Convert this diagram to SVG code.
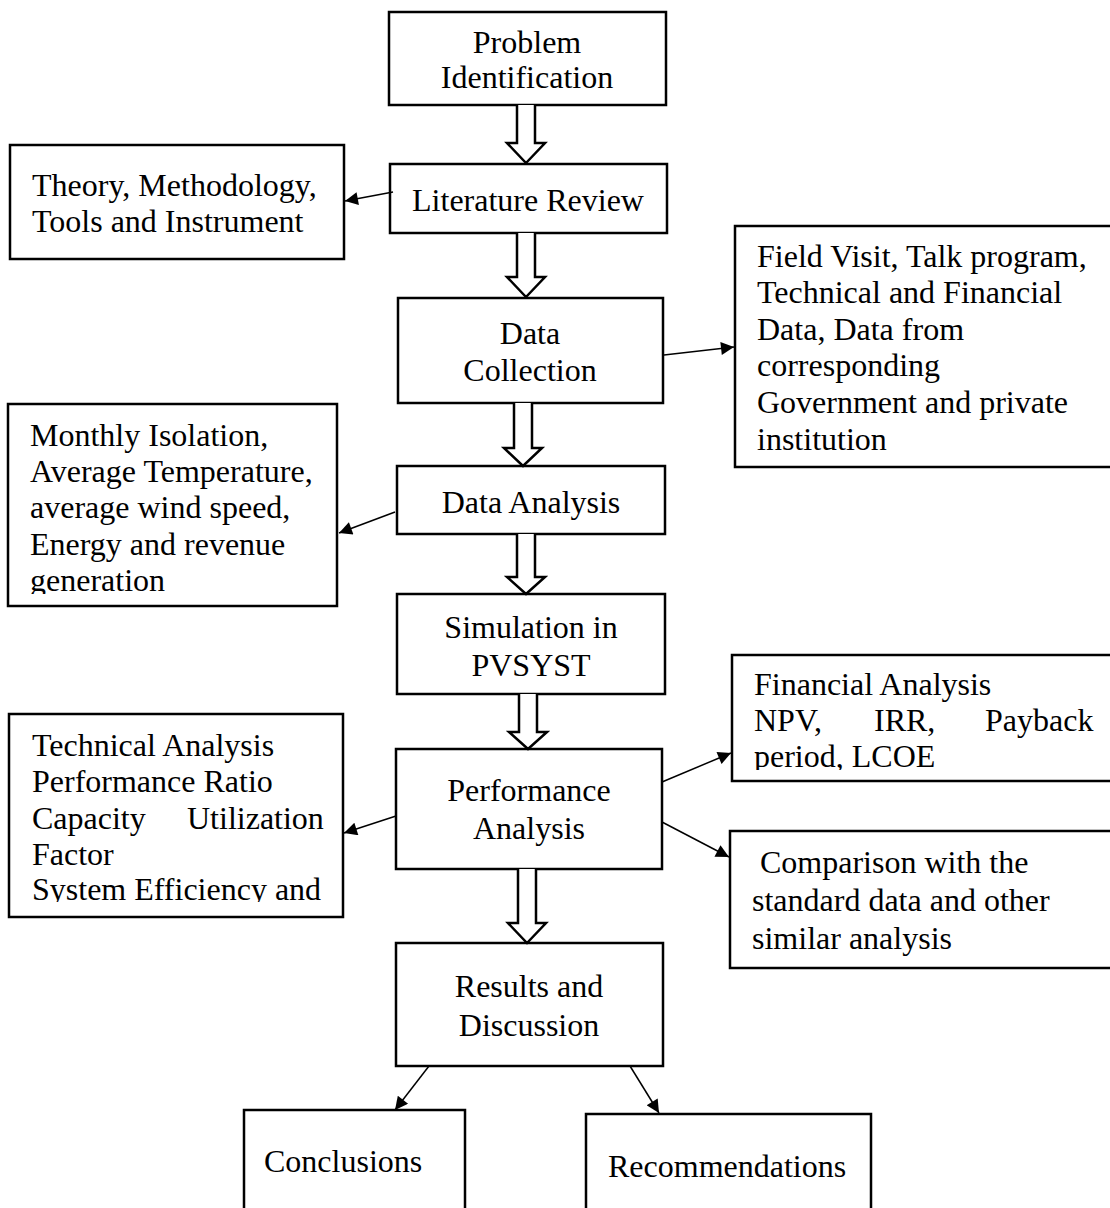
<svg xmlns="http://www.w3.org/2000/svg" width="1110" height="1208" viewBox="0 0 1110 1208">
<style>
.box{fill:#fff;stroke:#000;stroke-width:2.5}
.t{font-family:"Liberation Serif","Times New Roman",serif;font-size:32px;fill:#000}
.c{text-anchor:middle}
.hollow{fill:#fff;stroke:#000;stroke-width:2.5;stroke-linejoin:miter}
.con{stroke:#000;stroke-width:1.5;fill:none}
</style>
<defs>
<marker id="ah" viewBox="0 0 10 10" refX="10" refY="5" markerWidth="16" markerHeight="13" markerUnits="userSpaceOnUse" orient="auto">
<path d="M0,0 L10,5 L0,10 z" fill="#000"/>
</marker>
<clipPath id="clipMonthly"><rect x="8" y="404" width="329" height="190"/></clipPath>
<clipPath id="clipTech"><rect x="9" y="714" width="334" height="188"/></clipPath>
<clipPath id="clipFin"><rect x="732" y="655" width="400" height="115"/></clipPath>
</defs>
<rect width="1110" height="1208" fill="#fff"/>

<g id="problem">
<rect class="box" x="389" y="12" width="277" height="93"/>
<text class="t c" x="527" y="53">Problem</text>
<text class="t c" x="527" y="88">Identification</text>
</g>
<g id="literature">
<rect class="box" x="390" y="164" width="277" height="69"/>
<text class="t c" x="528" y="211">Literature Review</text>
</g>
<g id="theory">
<rect class="box" x="10" y="145" width="334" height="114"/>
<text class="t" x="32" y="196">Theory, Methodology,</text>
<text class="t" x="32" y="232">Tools and Instrument</text>
</g>
<g id="datacollection">
<rect class="box" x="398" y="298" width="265" height="105"/>
<text class="t c" x="530" y="344">Data</text>
<text class="t c" x="530" y="381">Collection</text>
</g>
<g id="fieldvisit">
<rect class="box" x="735" y="226" width="400" height="241"/>
<text class="t" x="757" y="267">Field Visit, Talk program,</text>
<text class="t" x="757" y="303">Technical and Financial</text>
<text class="t" x="757" y="340">Data, Data from</text>
<text class="t" x="757" y="376">corresponding</text>
<text class="t" x="757" y="413">Government and private</text>
<text class="t" x="757" y="450">institution</text>
</g>
<g id="monthly">
<rect class="box" x="8" y="404" width="329" height="202"/>
<g clip-path="url(#clipMonthly)">
<text class="t" x="30" y="446">Monthly Isolation,</text>
<text class="t" x="30" y="482">Average Temperature,</text>
<text class="t" x="30" y="518">average wind speed,</text>
<text class="t" x="30" y="555">Energy and revenue</text>
<text class="t" x="30" y="591">generation</text>
</g>
</g>
<g id="dataanalysis">
<rect class="box" x="397" y="466" width="268" height="68"/>
<text class="t c" x="531" y="513">Data Analysis</text>
</g>
<g id="simulation">
<rect class="box" x="397" y="594" width="268" height="100"/>
<text class="t c" x="531" y="638">Simulation in</text>
<text class="t c" x="531" y="676">PVSYST</text>
</g>
<g id="performance">
<rect class="box" x="396" y="749" width="266" height="120"/>
<text class="t c" x="529" y="801">Performance</text>
<text class="t c" x="529" y="839">Analysis</text>
</g>
<g id="technical">
<rect class="box" x="9" y="714" width="334" height="203"/>
<g clip-path="url(#clipTech)">
<text class="t" x="32" y="756">Technical Analysis</text>
<text class="t" x="32" y="792">Performance Ratio</text>
<text class="t" x="32" y="829">Capacity</text>
<text class="t" x="187" y="829">Utilization</text>
<text class="t" x="32" y="865">Factor</text>
<text class="t" x="32" y="900">System Efficiency and</text>
</g>
</g>
<g id="financial">
<rect class="box" x="732" y="655" width="400" height="126"/>
<g clip-path="url(#clipFin)">
<text class="t" x="754" y="695">Financial Analysis</text>
<text class="t" x="754" y="731">NPV,</text>
<text class="t" x="874" y="731">IRR,</text>
<text class="t" x="985" y="731">Payback</text>
<text class="t" x="754" y="767">period, LCOE</text>
</g>
</g>
<g id="comparison">
<rect class="box" x="730" y="831" width="400" height="137"/>
<text class="t" x="752" y="873" xml:space="preserve"> Comparison with the</text>
<text class="t" x="752" y="911">standard data and other</text>
<text class="t" x="752" y="949">similar analysis</text>
</g>
<g id="results">
<rect class="box" x="396" y="943" width="267" height="123"/>
<text class="t c" x="529" y="997">Results and</text>
<text class="t c" x="529" y="1036">Discussion</text>
</g>
<g id="conclusions">
<rect class="box" x="244" y="1110" width="221" height="120"/>
<text class="t" x="264" y="1172">Conclusions</text>
</g>
<g id="recommendations">
<rect class="box" x="586" y="1114" width="285" height="120"/>
<text class="t" x="608" y="1177">Recommendations</text>
</g>

<g id="connectors">
<polyline class="hollow" points="517,105 517,143 507,143 526,163 545,143 535,143 535,105"/>
<polyline class="hollow" points="517,233 517,277 507,277 526,297 545,277 535,277 535,233"/>
<polyline class="hollow" points="514,403 514,448 504,448 523,466 542,448 532,448 532,403"/>
<polyline class="hollow" points="517,534 517,577 507,577 526,594 545,577 535,577 535,534"/>
<polyline class="hollow" points="519,694 519,732 509,732 528,749 547,732 537,732 537,694"/>
<polyline class="hollow" points="518,869 518,923 508,923 527,943 546,923 536,923 536,869"/>
<line class="con" x1="393" y1="192" x2="345" y2="201" marker-end="url(#ah)"/>
<line class="con" x1="664" y1="355" x2="734" y2="347" marker-end="url(#ah)"/>
<line class="con" x1="395" y1="512" x2="339" y2="533" marker-end="url(#ah)"/>
<line class="con" x1="396" y1="816" x2="344" y2="833" marker-end="url(#ah)"/>
<line class="con" x1="662" y1="782" x2="731" y2="753" marker-end="url(#ah)"/>
<line class="con" x1="662" y1="822" x2="729" y2="857" marker-end="url(#ah)"/>
<line class="con" x1="429" y1="1066" x2="395" y2="1110" marker-end="url(#ah)"/>
<line class="con" x1="630" y1="1066" x2="659" y2="1113" marker-end="url(#ah)"/>
</g>
</svg>
